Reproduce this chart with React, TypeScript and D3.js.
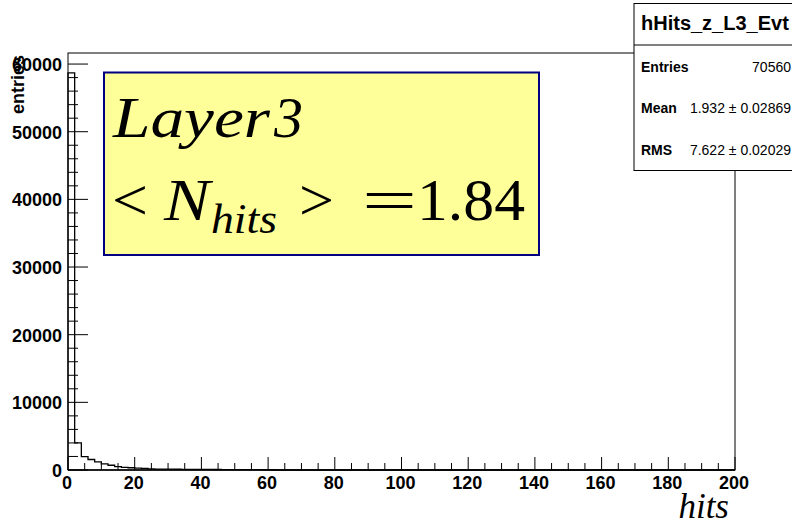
import { useRef, useEffect } from "react";
import * as d3 from "d3";

// histogram hHits_z_L3_Evt, bins of width 2 from 0 to 200
const binWidth = 2;
const counts = [
  58700, 4000, 1970, 1550, 1200, 900, 700, 500, 380, 330, 280, 240, 160, 140,
  130, 120, 110, 100, 95, 90, 85, 80, 75, 70, 65, 60, 55, 50, 45, 40, 35,
];
const xTicksMajor = [0, 20, 40, 60, 80, 100, 120, 140, 160, 180, 200];
const yTicksMajor = [0, 10000, 20000, 30000, 40000, 50000, 60000];

const statsTitle = "hHits_z_L3_Evt";
const statsRows = [
  { label: "Entries", value: "70560" },
  { label: "Mean", value: "1.932 \u00b1 0.02869" },
  { label: "RMS", value: "7.622 \u00b1 0.02029" },
];

const W = 792;
const H = 527;
const sans = "'Liberation Sans', Arial, sans-serif";
const serif = "'Liberation Serif', 'Times New Roman', serif";

export default function App() {
  const ref = useRef<SVGSVGElement>(null);

  useEffect(() => {
    const svg = d3.select(ref.current);
    svg.selectAll("*").remove();

    const frame = { left: 68, right: 735, top: 53, bottom: 470 };
    const x = d3.scaleLinear().domain([0, 200]).range([frame.left, frame.right]);
    const y = d3
      .scaleLinear()
      .domain([0, d3.max(counts)! * 1.05])
      .range([frame.bottom, frame.top]);

    svg.append("rect").attr("width", W).attr("height", H).attr("fill", "#fff");

    // frame
    svg
      .append("rect")
      .attr("x", frame.left)
      .attr("y", frame.top)
      .attr("width", frame.right - frame.left)
      .attr("height", frame.bottom - frame.top)
      .attr("fill", "none")
      .attr("stroke", "#000")
      .attr("stroke-width", 1);

    // histogram steps
    let d = `M${x(0)},${y(0)}`;
    counts.forEach((c, i) => {
      d += `L${x(i * binWidth)},${y(c)}L${x((i + 1) * binWidth)},${y(c)}`;
    });
    d += `L${x(counts.length * binWidth)},${y(0)}L${x(200)},${y(0)}`;
    svg
      .append("path")
      .attr("d", d)
      .attr("fill", "none")
      .attr("stroke", "#000")
      .attr("stroke-width", 1.3);

    // x axis ticks
    const xMinor = d3.range(0, 201, 5);
    const ax = svg.append("g").attr("stroke", "#000").attr("stroke-width", 1);
    xMinor.forEach((t) => {
      const major = t % 20 === 0;
      ax.append("line")
        .attr("x1", x(t))
        .attr("x2", x(t))
        .attr("y1", frame.bottom)
        .attr("y2", frame.bottom - (major ? 13 : 7));
    });
    svg
      .append("line")
      .attr("x1", frame.left)
      .attr("x2", frame.right)
      .attr("y1", frame.bottom)
      .attr("y2", frame.bottom)
      .attr("stroke", "#000")
      .attr("stroke-width", 1.5);

    svg
      .append("g")
      .selectAll("text")
      .data(xTicksMajor)
      .join("text")
      .attr("x", (t) => x(t) - 1)
      .attr("y", 488.5)
      .attr("text-anchor", "middle")
      .attr("font-family", sans)
      .attr("font-weight", "bold")
      .attr("font-size", 18)
      .text((t) => t);

    // y axis ticks
    const yMinor = d3.range(0, 61000, 2000);
    yMinor.forEach((t) => {
      const major = t % 10000 === 0;
      ax.append("line")
        .attr("x1", frame.left)
        .attr("x2", frame.left + (major ? 20 : 10))
        .attr("y1", y(t))
        .attr("y2", y(t));
    });

    svg
      .append("g")
      .selectAll("text")
      .data(yTicksMajor)
      .join("text")
      .attr("x", 62)
      .attr("y", (t) => y(t) + 7)
      .attr("text-anchor", "end")
      .attr("font-family", sans)
      .attr("font-weight", "bold")
      .attr("font-size", 18)
      .text((t) => t);

    // axis titles
    svg
      .append("text")
      .attr("transform", "translate(24,55) rotate(-90)")
      .attr("text-anchor", "end")
      .attr("font-family", sans)
      .attr("font-weight", "bold")
      .attr("font-size", 18)
      .text("entries");

    svg
      .append("text")
      .attr("x", 729)
      .attr("y", 518)
      .attr("text-anchor", "end")
      .attr("font-family", serif)
      .attr("font-style", "italic")
      .attr("font-size", 35)
      .text("hits");

    // yellow label box
    svg
      .append("rect")
      .attr("x", 104)
      .attr("y", 72.5)
      .attr("width", 435)
      .attr("height", 182.5)
      .attr("fill", "#ffff99")
      .attr("stroke", "#000080")
      .attr("stroke-width", 2);

    const latex = svg.append("g").attr("font-family", serif).attr("fill", "#000");
    latex
      .append("text")
      .attr("x", 113)
      .attr("y", 137)
      .attr("font-size", 58)
      .attr("font-style", "italic")
      .attr("textLength", 157)
      .attr("lengthAdjust", "spacingAndGlyphs")
      .text("Layer");
    latex
      .append("text")
      .attr("x", 274)
      .attr("y", 137)
      .attr("font-size", 58)
      .attr("font-style", "italic")
      .text("3");

    const parts = [
      { t: "<", x: 112, y: 220, size: 60, italic: false, w: 36 },
      { t: "N", x: 164, y: 220, size: 60, italic: true, w: 46 },
      { t: "hits", x: 211, y: 233, size: 42, italic: true, w: 66 },
      { t: ">", x: 299, y: 220, size: 60, italic: false, w: 35 },
      { t: "=", x: 362, y: 220, size: 60, italic: false, w: 55 },
      { t: "1.84", x: 417, y: 220, size: 60, italic: false, w: 108 },
    ];
    parts.forEach((p) => {
      latex
        .append("text")
        .attr("x", p.x)
        .attr("y", p.y)
        .attr("font-size", p.size)
        .attr("font-style", p.italic ? "italic" : "normal")
        .attr("textLength", p.w)
        .attr("lengthAdjust", "spacingAndGlyphs")
        .text(p.t);
    });

    // stats box
    const stats = svg.append("g");
    stats
      .append("rect")
      .attr("x", 634)
      .attr("y", 3.5)
      .attr("width", 200)
      .attr("height", 167)
      .attr("fill", "#fff")
      .attr("stroke", "#000")
      .attr("stroke-width", 1);
    stats
      .append("line")
      .attr("x1", 634)
      .attr("x2", W)
      .attr("y1", 45)
      .attr("y2", 45)
      .attr("stroke", "#000");
    stats
      .append("text")
      .attr("x", 641)
      .attr("y", 30)
      .attr("font-family", sans)
      .attr("font-weight", "bold")
      .attr("font-size", 20)
      .text(statsTitle);
    statsRows.forEach((r, i) => {
      const by = 71.5 + i * 41.7;
      stats
        .append("text")
        .attr("x", 641)
        .attr("y", by)
        .attr("font-family", sans)
        .attr("font-weight", "bold")
        .attr("font-size", 14)
        .text(r.label);
      stats
        .append("text")
        .attr("x", 791)
        .attr("y", by)
        .attr("text-anchor", "end")
        .attr("font-family", sans)
        .attr("font-size", 14)
        .text(r.value);
    });
  }, []);

  return (
    <svg
      ref={ref}
      width={W}
      height={H}
      style={{ position: "absolute", left: 0, top: 0, display: "block" }}
    ></svg>
  );
}
